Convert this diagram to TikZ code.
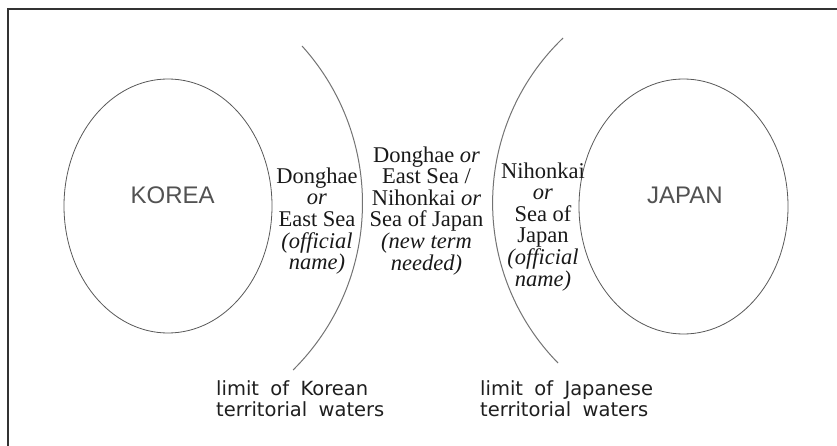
\documentclass[tikz,border=0pt]{standalone}
\usepackage{fontspec}
\setmainfont{Liberation Serif}
\newfontfamily\landfont{Liberation Sans}
\newfontfamily\limitfont{DejaVu Sans}
\usetikzlibrary{shapes.geometric}
\begin{document}
\begin{tikzpicture}[x=1pt,y=-1pt,
  framestyle/.style={draw=black!80, line width=1.6pt},
  land/.style={ellipse, draw=black!65, line width=0.8pt, minimum width=208pt, minimum height=254pt, inner sep=0pt},
  landname/.style={font=\landfont\fontsize{24}{24}\selectfont, text=black!68, anchor=base, inner sep=0pt},
  limitline/.style={draw=black!55, line width=1pt},
  sealabel/.style={font={\fontsize{22.5}{21.6}\selectfont\lineskiplimit=-20pt}, align=center, anchor=north, inner sep=0pt, text=black!90},
  limitlabel/.style={font={\limitfont\fontsize{19.5}{21}\selectfont\lineskiplimit=-20pt\spaceskip=0.58em\relax}, align=left, anchor=north west, inner sep=0pt, text=black!88}
]
\useasboundingbox (0,0) rectangle (837,446);
\fill[white] (0,0) rectangle (837,446);
% partial frame
\coordinate (frameTR) at (837,9);
\coordinate (frameTL) at (8,9);
\coordinate (frameBL) at (8,446);
\draw[framestyle] (frameTR) -- (frameTL) -- (frameBL);

% land masses
\node[land] (korea) at (168,206) {};
\node[land, minimum width=209pt, minimum height=255pt] (japan) at (683.5,206.5) {};
\node[landname] (koreaname) at (172.7,204) {KOREA};
\node[landname] (japanname) at (685,204) {JAPAN};

% limits of territorial waters
\draw[limitline] (127.6,203.3) ++(-42.05:234.9) arc[start angle=-42.05, end angle=45.2, radius=234.9];
\draw[limitline] (721,203) ++(226.24:228.4) arc[start angle=226.24, end angle=135.53, radius=228.4];

% sea names
\node[sealabel] (koreansea) at (317,166) {\rule{0pt}{17pt}Donghae\\\textit{or}\\East Sea\\\textit{(official}\\\textit{name)}};
\node[sealabel] (middlesea) at (426.5,145) {\rule{0pt}{17pt}Donghae \textit{or}\\East Sea /\\Nihonkai \textit{or}\\Sea of Japan\\\textit{(new term}\\\textit{needed)}};
\node[sealabel] (japansea) at (543,161) {\rule{0pt}{17pt}Nihonkai\\\textit{or}\\Sea of\\Japan\\\textit{(official}\\\textit{name)}};

% limit labels
\node[limitlabel] (koreanlimit) at (216,379) {\rule{0pt}{16pt}limit of Korean\\territorial waters};
\node[limitlabel] (japaneselimit) at (480,379) {\rule{0pt}{16pt}limit of Japanese\\territorial waters};
\end{tikzpicture}
\end{document}
